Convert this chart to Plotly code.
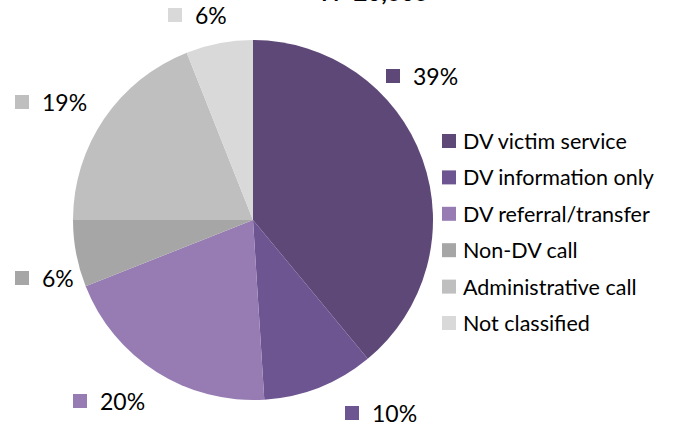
import plotly.graph_objects as go

categories = ["DV victim service", "DV information only", "DV referral/transfer",
              "Non-DV call", "Administrative call", "Not classified"]
percents = [39, 10, 20, 6, 19, 6]
colors = ["#5E4878", "#6D5591", "#967CB3", "#A6A6A6", "#BFBFBF", "#D9D9D9"]
title_text = "N=20,605"

W, H = 673, 425
FONT = "Lato, 'Open Sans', sans-serif"

def px(x):
    return x / W

def py(y):
    return 1 - y / H

fig = go.Figure(go.Pie(
    labels=categories, values=percents, sort=False,
    direction="clockwise", rotation=0,
    marker=dict(colors=colors, line=dict(width=0)),
    textinfo="none", hoverinfo="label+percent", showlegend=False,
    domain=dict(x=[px(73), px(433)], y=[py(400), py(40)]),
))

annotations = []
shapes = []
SQ = 14

# data labels (square centre positions in pixels)
label_pos = [(393, 76), (352, 413), (80, 401), (22, 278), (22, 102), (175, 15)]
for (cx, cy), v, c in zip(label_pos, percents, colors):
    shapes.append(dict(type="rect", xref="paper", yref="paper",
                       x0=px(cx - SQ / 2), x1=px(cx + SQ / 2),
                       y0=py(cy + SQ / 2), y1=py(cy - SQ / 2),
                       fillcolor=c, line=dict(width=0)))
    annotations.append(dict(text=f"{v}%", xref="paper", yref="paper",
                            x=px(cx + 18), y=py(cy), xanchor="left", yanchor="middle",
                            showarrow=False, font=dict(family=FONT, size=23, color="#000000")))

# legend
leg_x = 449
leg_y0, leg_dy = 141, 36.4
for i, (cat, c) in enumerate(zip(categories, colors)):
    cy = leg_y0 + i * leg_dy
    shapes.append(dict(type="rect", xref="paper", yref="paper",
                       x0=px(leg_x - SQ / 2), x1=px(leg_x + SQ / 2),
                       y0=py(cy + SQ / 2), y1=py(cy - SQ / 2),
                       fillcolor=c, line=dict(width=0)))
    annotations.append(dict(text=cat, xref="paper", yref="paper",
                            x=px(461), y=py(cy), xanchor="left", yanchor="middle",
                            showarrow=False, font=dict(family=FONT, size=21.5, color="#000000")))

annotations.append(dict(text=f"<b>{title_text}</b>", xref="paper", yref="paper",
                        x=px(375), y=py(8), xanchor="center", yanchor="bottom",
                        showarrow=False, font=dict(family=FONT, size=24, color="#000000")))

fig.update_layout(
    width=W, height=H, margin=dict(l=0, r=0, t=0, b=0),
    paper_bgcolor="white", plot_bgcolor="white",
    showlegend=False, annotations=annotations, shapes=shapes,
)

fig.write_html("out.html", config={"displayModeBar": False},
               post_script="document.body.style.margin='0';document.body.style.overflow='hidden';")
